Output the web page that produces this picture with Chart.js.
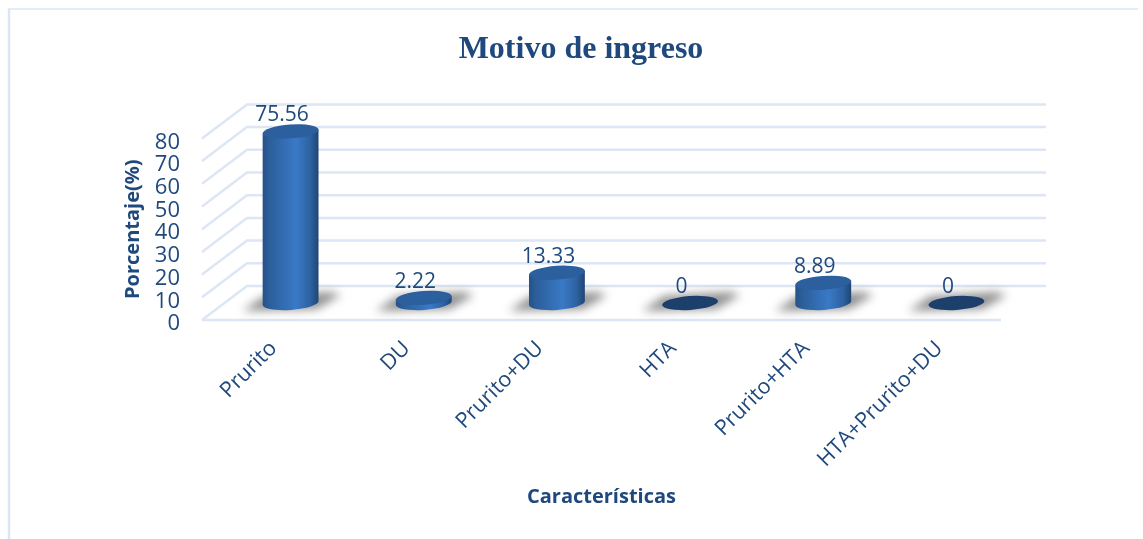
<!DOCTYPE html>
<html><head><meta charset="utf-8">
<style>html,body{margin:0;padding:0;background:#fff}#w{position:absolute;left:0;top:0;width:1143px;height:539px}</style>
<script src="https://cdn.jsdelivr.net/npm/chart.js@4"></script></head>
<body><div id="w"><canvas id="c" width="1143" height="539"></canvas></div>
<script>
const categories = ["Prurito","DU","Prurito+DU","HTA","Prurito+HTA","HTA+Prurito+DU"];
const values = [75.56,2.22,13.33,0,8.89,0];
const yTicks = [0,10,20,30,40,50,60,70,80];
const titleText = "Motivo de ingreso";
const xTitle = "Características";
const yTitle = "Porcentaje(%)";
const ink = "#1f497d";
const gridColor = "#dce6f4";
const DX=45, DY=-34, RX=28, RY=6.9, TILT=-0.07;

const frame = {id:'frame',beforeDraw(ch){const c=ch.ctx;c.save();c.strokeStyle='#dbe6f5';
  c.lineWidth=2.5;c.beginPath();c.moveTo(9,539);c.lineTo(9,9);c.stroke();
  c.lineWidth=1.5;c.beginPath();c.moveTo(8,9);c.lineTo(1138,9);c.stroke();c.restore();
  // nudge the axis label anchors to sit where the 3D projection places them
  const nudge=(s,dx,dy)=>{s.getLabelItems(ch.chartArea).forEach(it=>{if(!it._n){it._n=1;it.options.translation=[it.options.translation[0]+dx,it.options.translation[1]+dy];}});};
  nudge(ch.scales.y,0,4);nudge(ch.scales.x,5,4);
}};

const grid3d = {id:'grid3d',beforeDatasetsDraw(ch){
  const c=ch.ctx,y=ch.scales.y,x=ch.scales.x;c.save();c.strokeStyle=gridColor;c.lineWidth=2.5;
  yTicks.forEach(t=>{const p=y.getPixelForValue(t);c.beginPath();
    c.moveTo(x.left,p);c.lineTo(x.left+DX,p+DY);c.lineTo(x.right+DX,p+DY);c.stroke();});
  const p0=y.getPixelForValue(0);c.beginPath();c.moveTo(x.left,p0);c.lineTo(x.right,p0);c.stroke();
  c.restore();}};

function ell(c,x,y,rx,ry){c.beginPath();c.ellipse(x,y,rx,ry,TILT,0,Math.PI*2);}
const cyl = {id:'cyl',afterDatasetsDraw(ch){
  const c=ch.ctx,m=ch.getDatasetMeta(0);
  m.data.forEach((b,i)=>{
    const v=values[i],cx=b.x+DX/2-.5,by=b.base+DY/2,ty=b.y+DY/2;
    c.save();c.filter='blur(5px)';c.fillStyle='rgba(90,90,90,.68)';
    c.beginPath();c.moveTo(cx-RX-20,by+8);c.lineTo(cx-RX+2,by-7);c.lineTo(cx+RX+12,by-11);c.lineTo(cx+RX+22,by-8);c.lineTo(cx+RX-2,by+6);c.closePath();c.fill();c.restore();
    c.save();
    if(v===0){ell(c,cx,by,RX,RY);c.fillStyle='#1d3f6c';c.fill();c.restore();return;}
    const g=c.createLinearGradient(cx-RX,0,cx+RX,0);
    g.addColorStop(0,'#265187');g.addColorStop(.12,'#2b5e9a');g.addColorStop(.6,'#3a79c6');g.addColorStop(.85,'#2d62a2');g.addColorStop(1,'#204573');
    c.fillStyle=g;
    const ox=RX*Math.cos(TILT),oy=RX*Math.sin(TILT);
    c.beginPath();c.moveTo(cx-ox,ty-oy);c.lineTo(cx-ox,by-oy);
    c.ellipse(cx,by,RX,RY,TILT,Math.PI,0,true);
    c.lineTo(cx+ox,ty+oy);c.closePath();c.fill();
    ell(c,cx,ty,RX,RY);c.fillStyle='#2b5f9d';c.fill();
    c.restore();
  });
  c.save();c.fillStyle=ink;c.font='21px "Open Sans"';c.textAlign='center';c.textBaseline='middle';
  m.data.forEach((b,i)=>{c.fillText(String(values[i]),b.x+DX/2-9,b.y+DY/2-16);});
  c.restore();
}};

new Chart(document.getElementById('c'),{
 type:'bar',
 data:{labels:categories,datasets:[{data:values,backgroundColor:'rgba(0,0,0,0)',borderWidth:0}]},
 options:{responsive:false,animation:false,
  layout:{padding:{left:19,right:0,top:0,bottom:0}},
  plugins:{legend:{display:false},tooltip:{enabled:false},
   title:{display:true,text:titleText,color:ink,font:{family:'"Liberation Serif"',size:32,weight:'bold'},padding:{top:31,bottom:69}}},
  scales:{
   x:{grid:{display:false},border:{display:false},
      afterFit(s){s.height=219;},
      ticks:{color:ink,font:{family:'"Open Sans"',size:21.5},maxRotation:45,minRotation:45,padding:4},
      title:{display:true,text:xTitle,color:ink,font:{family:'"Open Sans"',size:20,weight:'bold'},padding:{bottom:30}}},
   y:{min:0,max:80,grid:{display:false},border:{display:false},
      afterFit(s){s.width=183;},
      afterBuildTicks(s){s.ticks=yTicks.map(v=>({value:v}));},
      ticks:{color:ink,font:{family:'"Open Sans"',size:22},padding:14,autoSkip:false},
      title:{display:true,text:yTitle,color:ink,font:{family:'"Open Sans"',size:20,weight:'bold'},padding:{top:102}}},
   y2:{position:'right',afterFit(s){s.width=142;},grid:{display:false},border:{display:false},ticks:{display:false}}
  }},
 plugins:[frame,grid3d,cyl]
});
</script></body></html>
